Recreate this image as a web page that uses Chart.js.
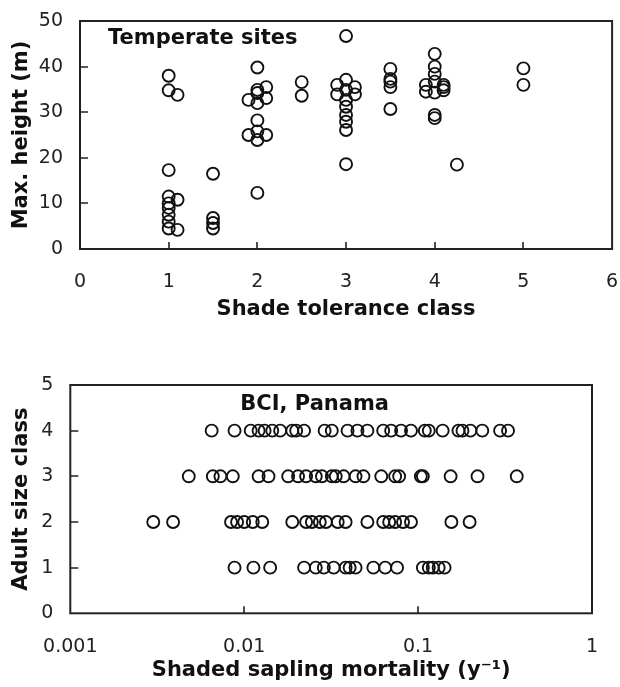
<!DOCTYPE html>
<html>
<head>
<meta charset="utf-8">
<script src="https://cdn.jsdelivr.net/npm/chart.js@4"></script>
<style>
  html, body { margin: 0; padding: 0; background: #fff; }
  #wrap { position: relative; width: 620px; height: 687px; overflow: hidden; }
  canvas { position: absolute; left: 0; }
  #topChart { top: 0; }
  #bottomChart { top: 340px; }
</style>
</head>
<body>
<div id="wrap">
  <canvas id="topChart" width="620" height="330"></canvas>
  <canvas id="bottomChart" width="620" height="347"></canvas>
</div>
<script>
// Top panel: temperate sites
const shadeClass = [
  1, 1, 1, 1, 1, 1, 1, 1, 1,
  1.1, 1.1, 1.1,
  1.5, 1.5, 1.5, 1.5,
  1.9, 1.9, 2, 2, 2, 2, 2, 2, 2, 2, 2.1, 2.1, 2.1,
  2.5, 2.5,
  2.9, 2.9, 3, 3, 3, 3, 3, 3, 3, 3, 3, 3.1, 3.1,
  3.5, 3.5, 3.5, 3.5, 3.5,
  3.9, 3.9, 4, 4, 4, 4, 4, 4, 4, 4.1, 4.1, 4.1,
  4.25,
  5, 5
];
const maxHeight = [
  38.0, 34.8, 17.3, 11.5, 10.0, 9.0, 7.5, 6.0, 4.5,
  33.8, 10.8, 4.2,
  16.5, 6.8, 5.7, 4.5,
  32.7, 25.0, 39.8, 34.9, 34.2, 32.0, 28.2, 25.8, 23.9, 12.3, 35.5, 33.1, 25.0,
  36.6, 33.6,
  36.0, 33.9, 46.7, 37.1, 34.9, 32.7, 31.2, 29.4, 27.9, 26.1, 18.6, 35.5, 33.9,
  39.5, 37.3, 36.7, 35.5, 30.7,
  36.0, 34.5, 42.8, 40.0, 38.4, 36.7, 34.3, 29.4, 28.7, 36.0, 35.5, 34.8,
  18.5,
  39.6, 36.0
];
const topXTicks = [0, 1, 2, 3, 4, 5, 6];
const topYTicks = [0, 10, 20, 30, 40, 50];

// Bottom panel: BCI, Panama (shaded sapling mortality by adult size class)
const mortClass1 = [0.0088, 0.0113, 0.0141, 0.0221, 0.0258, 0.0287, 0.0327, 0.0383, 0.0404, 0.0437,
  0.0553, 0.0647, 0.0757, 0.1065, 0.1152, 0.1214, 0.1313, 0.1420];
const mortClass2 = [0.0030, 0.0039, 0.0084, 0.0091, 0.0100, 0.0112, 0.0127, 0.0189, 0.0227, 0.0245,
  0.0272, 0.0295, 0.0345, 0.0383, 0.0511, 0.0630, 0.0682, 0.0738, 0.0819, 0.0910, 0.1554, 0.1978];
const mortClass3 = [0.0048, 0.0066, 0.0073, 0.0086, 0.0121, 0.0138, 0.0179, 0.0204, 0.0227, 0.0258,
  0.0280, 0.0319, 0.0336, 0.0373, 0.0437, 0.0485, 0.0614, 0.0738, 0.0778, 0.1037, 0.1065, 0.1538,
  0.2196, 0.3692];
const mortClass4 = [0.0065, 0.0088, 0.0109, 0.0121, 0.0131, 0.0145, 0.0161, 0.0189, 0.0199, 0.0221,
  0.0290, 0.0319, 0.0393, 0.0448, 0.0511, 0.0630, 0.0700, 0.0798, 0.0910, 0.1093, 0.1152, 0.1384,
  0.1707, 0.1800, 0.1999, 0.2339, 0.2961, 0.3290];
const sizeClasses = [1, 2, 3, 4];
const bottomXTicks = [0.001, 0.01, 0.1, 1];
const bottomXLabels = ['0.001', '0.01', '0.1', '1'];
const bottomYTicks = [0, 1, 2, 3, 4, 5];

Chart.defaults.font.family = '"DejaVu Sans", sans-serif';
Chart.defaults.color = '#222';

// Box round the plot area, inward tick marks and the panel label
const framePlugin = {
  id: 'frame',
  beforeDatasetsDraw(chart, args, opts) {
    const { ctx, chartArea: a, scales } = chart;
    ctx.save();
    ctx.strokeStyle = '#222';
    ctx.lineWidth = 2;
    ctx.strokeRect(a.left, a.top, a.right - a.left, a.bottom - a.top);
    ctx.lineWidth = 1.6;
    ctx.beginPath();
    scales.x.ticks.forEach(t => {
      const px = Math.round(scales.x.getPixelForValue(t.value));
      if (px <= a.left + 1 || px >= a.right - 1) return;
      ctx.moveTo(px, a.bottom);
      ctx.lineTo(px, a.bottom - 7);
    });
    scales.y.ticks.forEach(t => {
      const py = Math.round(scales.y.getPixelForValue(t.value));
      if (py <= a.top + 1 || py >= a.bottom - 1) return;
      ctx.moveTo(a.left, py);
      ctx.lineTo(a.left + 8, py);
    });
    ctx.stroke();
    ctx.font = 'bold 21px "DejaVu Sans"';
    ctx.fillStyle = '#111';
    ctx.textBaseline = 'middle';
    ctx.fillText(opts.text, a.left + opts.dx, a.top + opts.dy);
    ctx.restore();
  }
};

const pointStyle = {
  pointStyle: 'circle',
  pointRadius: 6,
  pointBorderWidth: 1.9,
  pointBorderColor: '#111',
  pointBackgroundColor: 'rgba(255,255,255,0)',
  showLine: false
};

function axisTitle(text, pad) {
  return { display: true, text: text, color: '#111', font: { size: 21, weight: 'bold' }, padding: pad };
}

// hidden grid, but tickLength keeps the gap between axis and labels
function gap(len) {
  return { display: false, drawTicks: true, tickLength: len };
}

// Top chart
new Chart(document.getElementById('topChart'), {
  type: 'scatter',
  data: {
    datasets: [{
      data: shadeClass.map((x, i) => ({ x: x, y: maxHeight[i] })),
      ...pointStyle
    }]
  },
  options: {
    responsive: false,
    animation: false,
    layout: { padding: { left: 0, right: 7, top: 21, bottom: 0 } },
    plugins: {
      legend: { display: false },
      tooltip: { enabled: false },
      frame: { text: 'Temperate sites', dx: 28, dy: 18 }
    },
    scales: {
      x: {
        type: 'linear', min: 0, max: 6,
        afterBuildTicks: s => { s.ticks = topXTicks.map(v => ({ value: v })); },
        afterFit: s => { s.height = 81; },
        grid: gap(22),
        border: { display: false },
        ticks: { font: { size: 19 }, padding: 0, maxRotation: 0, callback: v => String(v) },
        title: axisTitle('Shade tolerance class', { top: 0, bottom: 8 })
      },
      y: {
        type: 'linear', min: 0, max: 50,
        afterBuildTicks: s => { s.ticks = topYTicks.map(v => ({ value: v })); },
        afterFit: s => { s.width = 80; },
        grid: gap(17),
        border: { display: false },
        ticks: { font: { size: 19 }, padding: 0, callback: v => String(v) },
        title: axisTitle('Max. height (m)', { top: 9, bottom: 0 })
      }
    }
  },
  plugins: [framePlugin]
});

// Bottom chart
const bciPoints = [];
[mortClass1, mortClass2, mortClass3, mortClass4].forEach((row, k) => {
  row.forEach(m => bciPoints.push({ x: m, y: sizeClasses[k] }));
});

new Chart(document.getElementById('bottomChart'), {
  type: 'scatter',
  data: { datasets: [{ data: bciPoints, ...pointStyle }] },
  options: {
    responsive: false,
    animation: false,
    layout: { padding: { left: 0, right: 28, top: 45, bottom: 0 } },
    plugins: {
      legend: { display: false },
      tooltip: { enabled: false },
      frame: { text: 'BCI, Panama', dx: 170, dy: 20 }
    },
    scales: {
      x: {
        type: 'logarithmic', min: 0.001, max: 1,
        afterBuildTicks: s => { s.ticks = bottomXTicks.map(v => ({ value: v })); },
        afterFit: s => { s.height = 73.7; },
        grid: gap(22),
        border: { display: false },
        ticks: {
          font: { size: 19 }, padding: 0, maxRotation: 0, autoSkip: false,
          callback: (v) => bottomXLabels[bottomXTicks.indexOf(v)]
        },
        title: axisTitle('Shaded sapling mortality (y\u207B\u00B9)', { top: 0, bottom: 4 })
      },
      y: {
        type: 'linear', min: 0, max: 5,
        afterBuildTicks: s => { s.ticks = bottomYTicks.map(v => ({ value: v })); },
        afterFit: s => { s.width = 70.3; },
        grid: gap(17),
        border: { display: false },
        ticks: { font: { size: 19 }, padding: 0, callback: v => String(v) },
        title: axisTitle('Adult size class', { top: 9, bottom: 0 })
      }
    }
  },
  plugins: [framePlugin]
});
</script>
</body>
</html>
